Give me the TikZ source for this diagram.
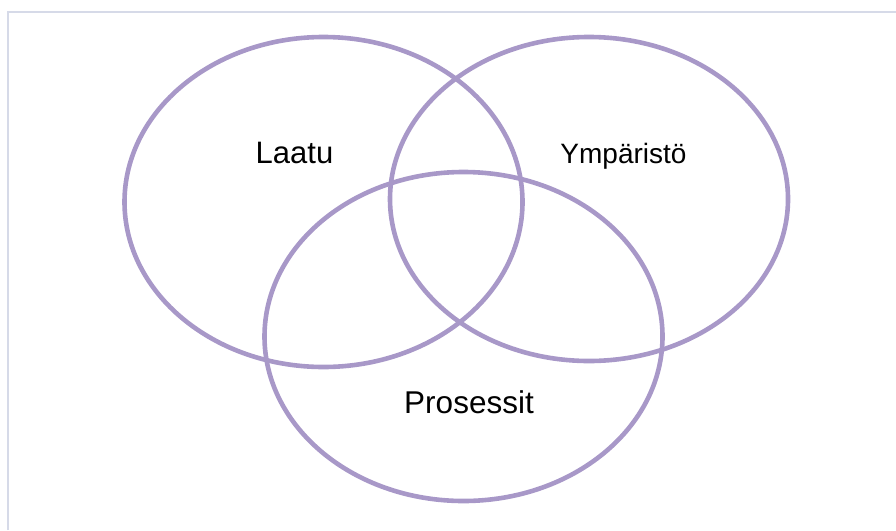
\documentclass[tikz,border=0pt]{standalone}
\usepackage{fontspec}
\setmainfont{Liberation Sans}
\definecolor{vennline}{HTML}{A898C8}
\definecolor{framegray}{HTML}{D6DAE8}
\begin{document}
\begin{tikzpicture}[x=1pt,y=-1pt,
  venn/.style={draw=vennline,line width=4.6pt},
  lbl/.style={anchor=base,inner sep=0pt,text=black}]
\useasboundingbox (0,0) rectangle (896,530);
% frame edges
\coordinate (ftl) at (8,12);
\coordinate (ftr) at (896,12);
\coordinate (fbl) at (8,530);
\draw[framegray,line width=2pt] (fbl) -- (ftl) -- (ftr);
% three overlapping ellipses
\draw[venn] (323.5,202) ellipse [x radius=199, y radius=165];
\draw[venn] (589,199) ellipse [x radius=199, y radius=162];
\draw[venn] (463.5,336.5) ellipse [x radius=199, y radius=164.5];
% labels
\node[lbl,font=\fontsize{31}{36}\selectfont] (laatu) at (294.5,163) {Laatu};
\node[lbl,font=\fontsize{28}{33}\selectfont] (ymparisto) at (623.5,163) {Ympäristö};
\node[lbl,font=\fontsize{31.5}{36}\selectfont] (prosessit) at (469,413) {Prosessit};
\end{tikzpicture}
\end{document}
